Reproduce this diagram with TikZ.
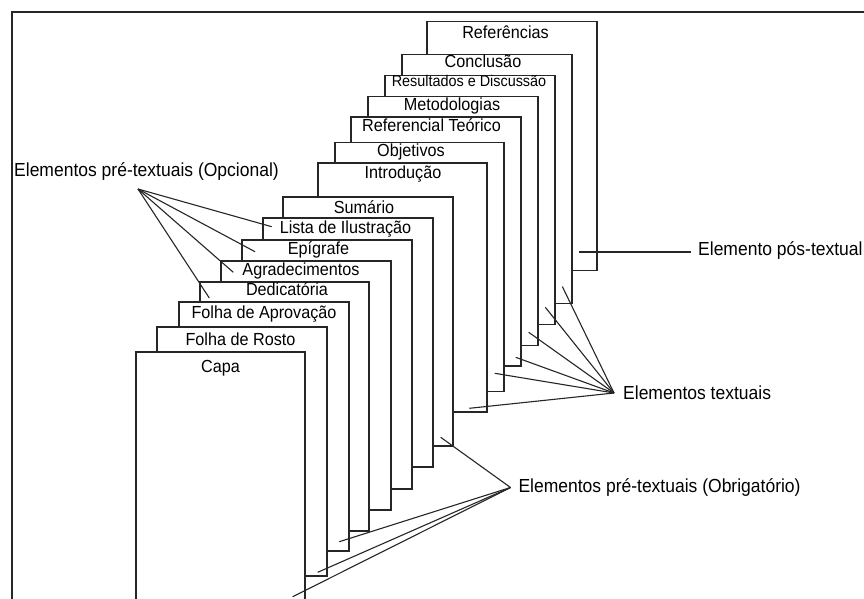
\documentclass[tikz,border=0pt]{standalone}
\usepackage{fontspec}
\setmainfont{Liberation Sans}
\newcommand{\vstretch}[1]{\scalebox{1}[1.08]{#1}}
\begin{document}
\begin{tikzpicture}[x=1pt,y=-1pt,
  pagebox/.style={draw=black!85,line width=1.1pt,fill=white,anchor=north west,
    minimum width=170pt,minimum height=249pt,inner sep=0pt,outer sep=0pt},
  pagelab/.style={anchor=base,inner sep=0pt,font=\fontsize{16.2}{19}\selectfont},
  smalllab/.style={anchor=base,inner sep=0pt,font=\fontsize{14.4}{17}\selectfont},
  outlab/.style={anchor=base west,inner sep=0pt,font=\fontsize{17.5}{21}\selectfont},
  conn/.style={draw=black!85,line width=1.1pt},
  frameline/.style={draw=black!85,line width=1.1pt}]
\useasboundingbox (0,0) rectangle (864,599);
\fill[white] (0,0) rectangle (864,599);
% frame
\coordinate (fbl) at (12,599);
\coordinate (ftl) at (12,12);
\coordinate (ftr) at (864,12);
\draw[frameline] (fbl) -- (ftl) -- (ftr);
% pages, back to front
\node[pagebox] (ref) at (427,21.5) {};
\node[pagelab] (refL) at (505.5,38.3) {\vstretch{Referências}};
\node[pagebox] (concl) at (402,54.5) {};
\node[pagelab] (conclL) at (483,67.7) {\vstretch{Conclusão}};
\node[pagebox] (res) at (385,75.5) {};
\node[smalllab] (resL) at (469,87) {\vstretch{Resultados e Discussão}};
\node[pagebox] (met) at (368,96.5) {};
\node[pagelab] (metL) at (452,110.5) {\vstretch{Metodologias}};
\node[pagebox] (reft) at (351,117) {};
\node[pagelab] (reftL) at (431.5,131.5) {\vstretch{Referencial Teórico}};
\node[pagebox,minimum width=169pt] (obj) at (335,142.5) {};
\node[pagelab] (objL) at (411,156.5) {\vstretch{Objetivos}};
\node[pagebox,minimum width=169pt] (intro) at (318,163) {};
\node[pagelab] (introL) at (403,178) {\vstretch{Introdução}};
\node[pagebox] (sum) at (283,197) {};
\node[pagelab] (sumL) at (364,213) {\vstretch{Sumário}};
\node[pagebox] (lista) at (263,218) {};
\node[pagelab] (listaL) at (345.5,233.3) {\vstretch{Lista de Ilustração}};
\node[pagebox] (epi) at (242,240) {};
\node[pagelab] (epiL) at (318.5,254) {\vstretch{Epígrafe}};
\node[pagebox] (agr) at (221,261) {};
\node[pagelab] (agrL) at (301,275) {\vstretch{Agradecimentos}};
\node[pagebox,minimum width=169pt] (ded) at (200,282) {};
\node[pagelab] (dedL) at (287,295.7) {\vstretch{Dedicatória}};
\node[pagebox] (apr) at (179,302) {};
\node[pagelab] (aprL) at (264,318) {\vstretch{Folha de Aprovação}};
\node[pagebox] (rosto) at (157,327) {};
\node[pagelab] (rostoL) at (240.5,345.7) {\vstretch{Folha de Rosto}};
\node[pagebox,minimum width=169pt] (capa) at (136,352) {};
\node[pagelab] (capaL) at (220.5,372.7) {\vstretch{Capa}};
% outside labels
\node[outlab] (opcL) at (14,176) {\vstretch{Elementos pré-textuais (Opcional)}};
\node[outlab] (txtL) at (623,399) {\vstretch{Elementos textuais}};
\node[outlab] (posL) at (698,255.7) {\vstretch{Elemento pós-textual}};
\node[outlab] (obrL) at (518.3,492.3) {\vstretch{Elementos pré-textuais (Obrigatório)}};
% convergence points
\coordinate (opc) at (138,189);
\coordinate (txt) at (614,393);
\coordinate (obr) at (510.5,487.5);
% end points inside pages
\coordinate (eLista) at (271.7,226.7);
\coordinate (eEpi) at (255,251.7);
\coordinate (eAgr) at (233.3,272.3);
\coordinate (eDed) at (209.3,298);
\coordinate (eConcl) at (562.3,286.5);
\coordinate (eRes) at (545.3,307.3);
\coordinate (eMet) at (528.7,332.3);
\coordinate (eReft) at (515.7,357.3);
\coordinate (eObj) at (494.7,373.3);
\coordinate (eIntro) at (469.3,408.3);
\coordinate (eSum) at (440.7,437.3);
\coordinate (eApr) at (339.3,541.7);
\coordinate (eRosto) at (317.7,572.3);
\coordinate (eCapa) at (292.7,596.7);
\coordinate (ePosA) at (579,252);
\coordinate (ePosB) at (691,252);
% connectors
\draw[conn] (opc) -- (eLista);
\draw[conn] (opc) -- (eEpi);
\draw[conn] (opc) -- (eAgr);
\draw[conn] (opc) -- (eDed);
\draw[conn] (txt) -- (eConcl);
\draw[conn] (txt) -- (eRes);
\draw[conn] (txt) -- (eMet);
\draw[conn] (txt) -- (eReft);
\draw[conn] (txt) -- (eObj);
\draw[conn] (txt) -- (eIntro);
\draw[conn] (obr) -- (eSum);
\draw[conn] (obr) -- (eApr);
\draw[conn] (obr) -- (eRosto);
\draw[conn] (obr) -- (eCapa);
\draw[conn] (ePosA) -- (ePosB);
\end{tikzpicture}
\end{document}
